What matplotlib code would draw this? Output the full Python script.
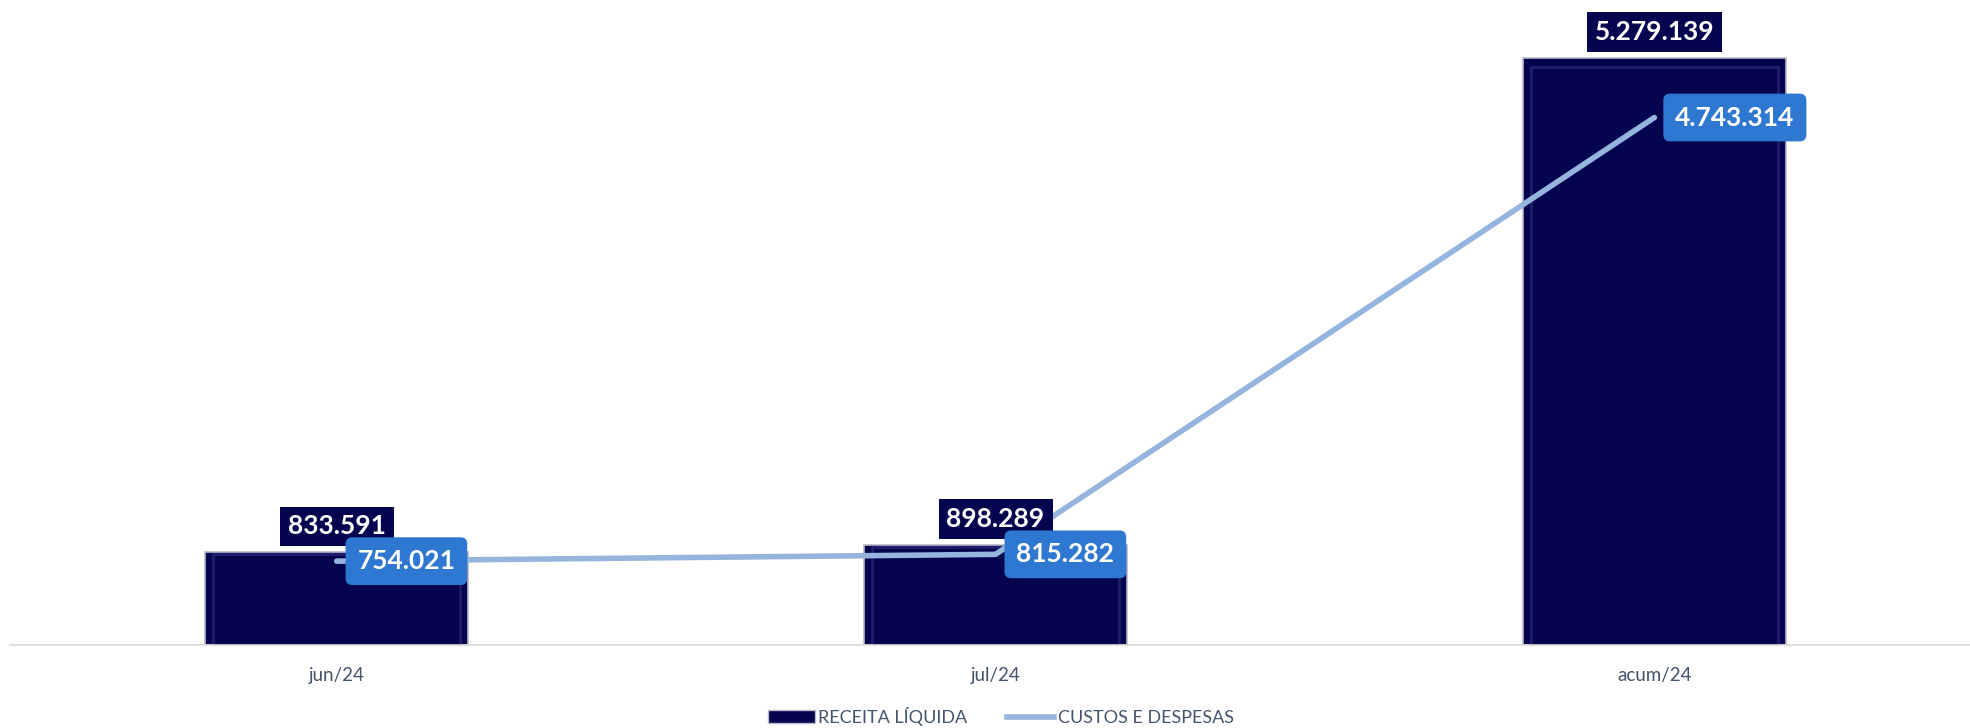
import matplotlib.pyplot as plt
from matplotlib.patches import Patch
from matplotlib.lines import Line2D

# dados do gráfico
periodos = ["jun/24", "jul/24", "acum/24"]
receita = [833591, 898289, 5279139]
custos = [754021, 815282, 4743314]
rotulos_receita = ["833.591", "898.289", "5.279.139"]
rotulos_custos = ["754.021", "815.282", "4.743.314"]

azul_escuro = "#04044F"
azul_linha = "#95B5DF"
azul_rotulo = "#2E78D2"
cinza_texto = "#44546A"

plt.rcParams["font.family"] = ["Lato", "DejaVu Sans"]

fig = plt.figure(figsize=(19.7, 7.28), dpi=100)
ax = fig.add_axes([0.005, 0.114, 0.995, 0.886])

x = range(len(periodos))

# barras (com borda interna suave para imitar o chanfro)
ax.bar(x, receita, width=0.4, color=azul_escuro, edgecolor="#B8B8C8",
       linewidth=1.2, zorder=2)
ax.bar(x, [v * 0.985 for v in receita], width=0.375,
       color="none", edgecolor="#1E1E6E", linewidth=2, zorder=2.1)

# linha
ax.plot(x, custos, color=azul_linha, linewidth=4, solid_capstyle="round", zorder=3)

for i in x:
    ax.annotate(rotulos_receita[i], (i, receita[i]), xytext=(0, 10),
                textcoords="offset points", ha="center", va="bottom",
                fontsize=19, fontweight="bold", color="white", zorder=5,
                bbox=dict(boxstyle="square,pad=0.3", fc=azul_escuro, ec="none"))
    ax.annotate(rotulos_custos[i], (i, custos[i]), xytext=(15, 0),
                textcoords="offset points", ha="left", va="center",
                fontsize=19, fontweight="bold", color="white", zorder=6,
                bbox=dict(boxstyle="round,pad=0.45,rounding_size=0.25",
                          fc=azul_rotulo, ec="none"))

ax.set_xlim(-0.496, 2.479)
ax.set_ylim(0, 5800000)
ax.set_xticks(list(x))
ax.set_xticklabels(periodos, fontsize=13.5, color=cinza_texto)
ax.tick_params(axis="x", length=0, pad=16)
ax.set_yticks([])
for lado in ["top", "right", "left"]:
    ax.spines[lado].set_visible(False)
ax.spines["bottom"].set_color("#D9D9D9")
ax.spines["bottom"].set_linewidth(1.2)

handles = [Patch(facecolor=azul_escuro, edgecolor="#B8B8C8", label="RECEITA LÍQUIDA"),
           Line2D([0], [0], color=azul_linha, linewidth=4, label="CUSTOS E DESPESAS")]
leg = fig.legend(handles=handles, loc="center", bbox_to_anchor=(0.508, 0.016),
                 ncol=2, frameon=False, fontsize=13, handlelength=2.6,
                 handleheight=0.7, handletextpad=0.2, columnspacing=2.2)
for t in leg.get_texts():
    t.set_color(cinza_texto)

fig.savefig("out.png", dpi=100)
